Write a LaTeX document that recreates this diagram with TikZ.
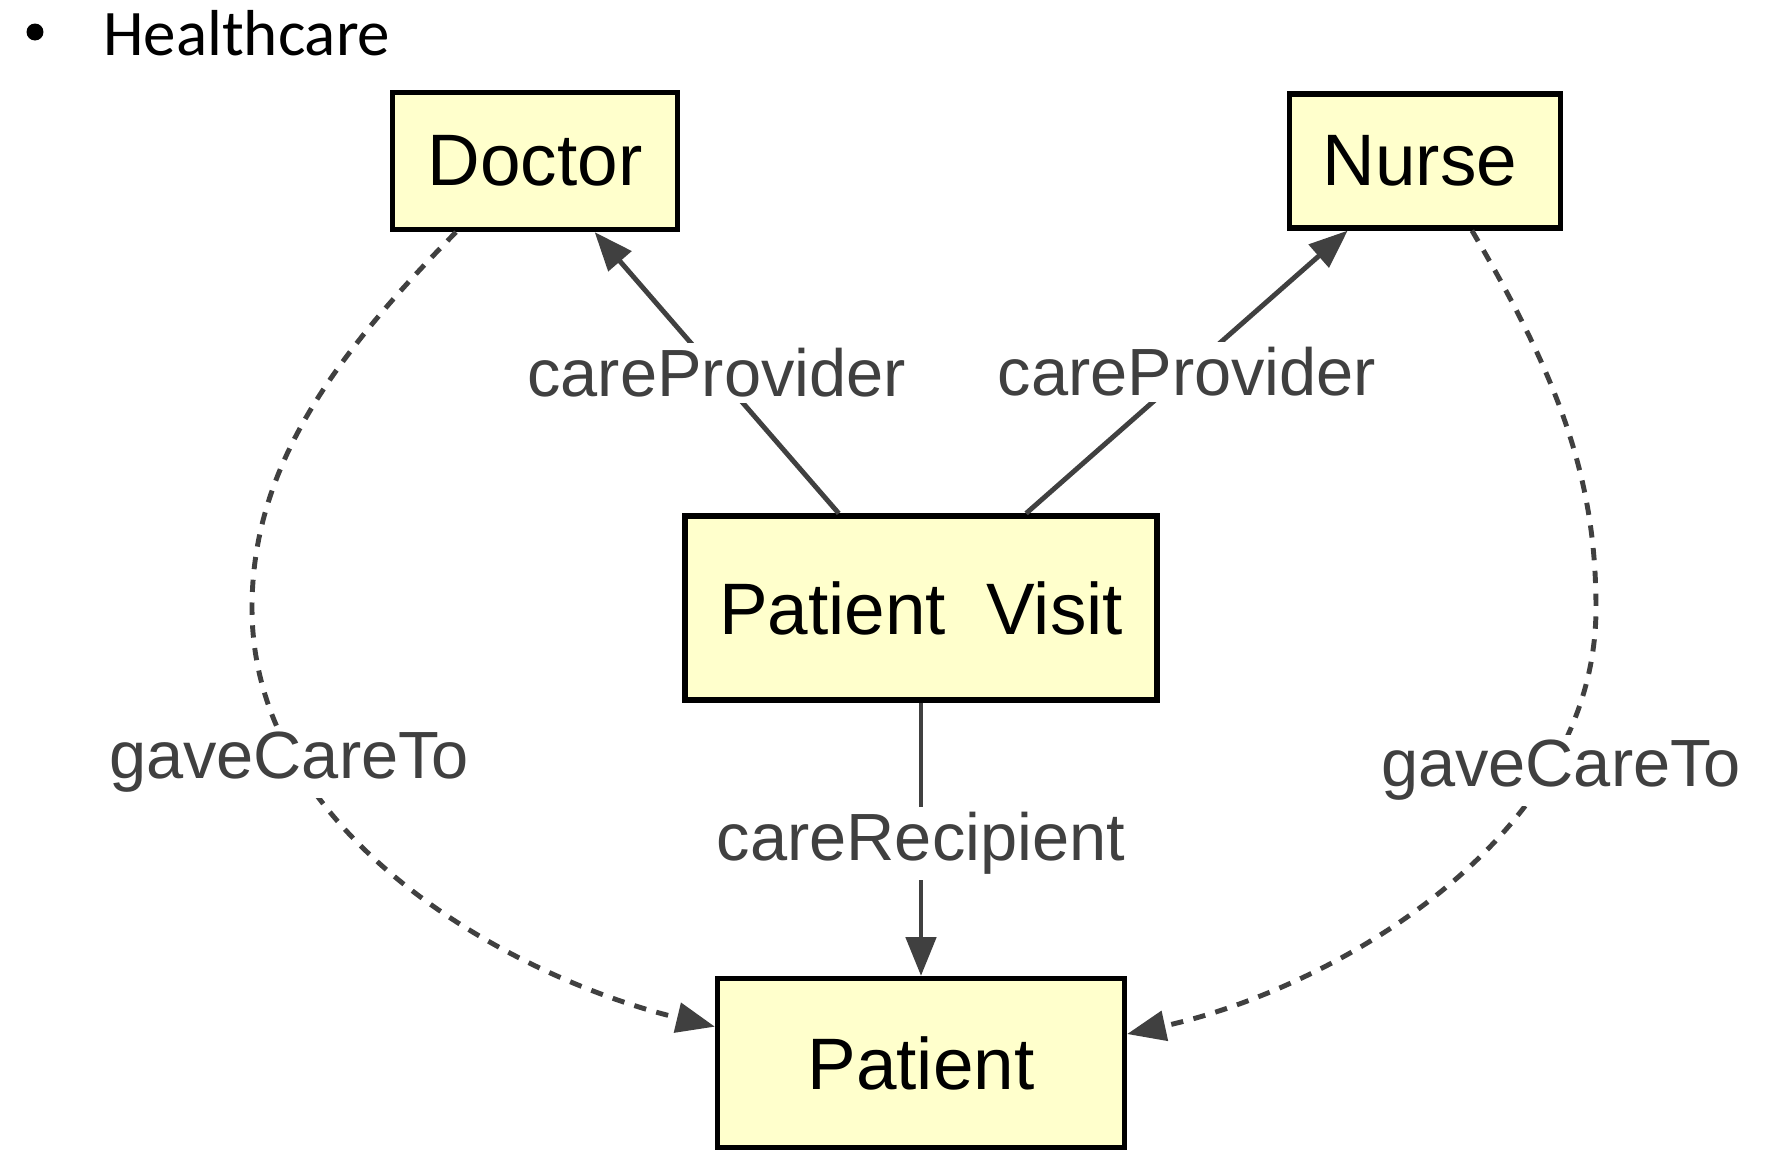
\documentclass[tikz,border=0pt]{standalone}
\usepackage{fontspec}
\setmainfont{Liberation Sans}
\newfontfamily\slidefont{Carlito}
\usetikzlibrary{arrows.meta}
\definecolor{boxfill}{HTML}{FFFFCC}
\definecolor{edgegray}{HTML}{404040}
\begin{document}
\begin{tikzpicture}
	[x=0.02cm,y=-0.02cm,>={Triangle[length=22pt,width=17pt]},
	entity/.style={rectangle,draw,line width=3pt,fill=boxfill,inner sep=2pt,font=\fontsize{41.5}{50}\selectfont},
	link/.style={draw=edgegray,line width=2.8pt,->},
	dotlink/.style={link,dash pattern=on 7pt off 6pt},
	rel/.style={fill=white,text=edgegray,inner sep=3pt,font=\fontsize{38}{46}\selectfont}]
	\useasboundingbox (0,0) rectangle (1766,1160);
	\node at (35,32) [circle,fill,inner sep=0pt,minimum size=0.34cm] (bullet) {};
	\node at (97,55) [anchor=base west,font=\slidefont\fontsize{37}{44}\selectfont] (title) {Healthcare};
	\node at (535,161) [entity,minimum width=5.7cm,minimum height=2.74cm] (doctor) {Doctor};
	\node at (1425,161) [entity,minimum width=5.42cm,minimum height=2.68cm] (nurse) {\hspace*{-0.2cm}Nurse};
	\node at (921,608) [entity,minimum width=9.44cm,minimum height=3.68cm] (visit) {Patient\ \ Visit};
	\node at (921,1063) [entity,minimum width=8.14cm,minimum height=3.38cm] (patient) {Patient};
	\draw [link] (visit.131) -- (doctor.310) node [rel, midway] {careProvider};
	\draw [link] (visit.42) -- (nurse.222) node [rel, midway] {careProvider};
	\draw [link] (visit.south) -- (patient.north) node [rel, midway, yshift=-0.08cm] {careRecipient};
	\draw [dotlink] (doctor.222) .. controls (330,360) and (252,470) .. (252,608)
		.. controls (252,840) and (520,980) .. (patient.170);
	\draw [dotlink] (nurse.304) .. controls (1560,380) and (1596,480) .. (1596,608)
		.. controls (1596,840) and (1330,990) .. (patient.8);
	\node at (289,762) [rel] (gave1) {gaveCareTo};
	\node at (1561,770) [rel] (gave2) {gaveCareTo};
\end{tikzpicture}
\end{document}
